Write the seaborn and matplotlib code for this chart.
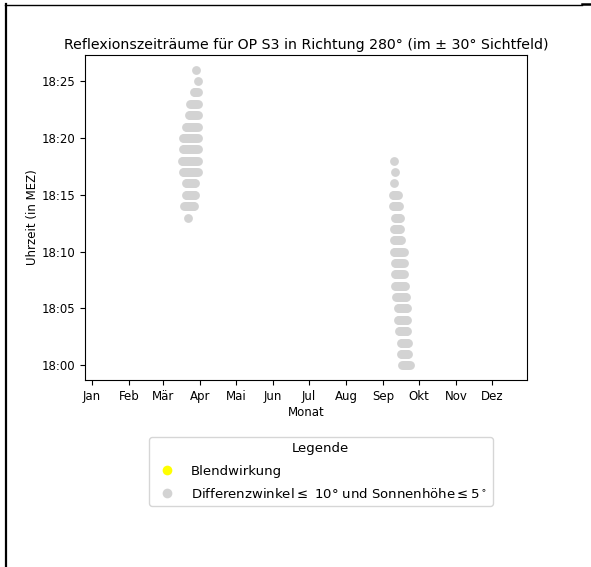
import numpy as np
import pandas as pd
import matplotlib
matplotlib.use("Agg")
import matplotlib.pyplot as plt
from matplotlib.lines import Line2D
from matplotlib.ticker import FuncFormatter
import seaborn as sns

# Month labels and the day-of-year on which each month starts
months = ["Jan", "Feb", "Mär", "Apr", "Mai", "Jun", "Jul", "Aug", "Sep", "Okt", "Nov", "Dez"]
month_start_doy = [0, 31, 59, 90, 120, 151, 181, 212, 243, 273, 304, 334]

# Spring window: minute after 18:00 and the first/last day of year with reflection
spring_minute = [13, 14, 15, 16, 17, 18, 19, 20, 21, 22, 23, 24, 25, 26]
spring_first = [80, 77, 78, 78, 76, 75, 76, 76, 78, 81, 82, 85, 88, 87]
spring_last = [80, 85, 86, 86, 88, 88, 88, 88, 88, 88, 88, 88, 88, 87]

# Autumn window
autumn_minute = [0, 1, 2, 3, 4, 5, 6, 7, 8, 9, 10, 11, 12, 13, 14, 15, 16, 17, 18]
autumn_first = [259, 258, 258, 256, 255, 255, 254, 253, 253, 253, 252, 252, 252, 253, 251, 251, 252, 253, 252]
autumn_last = [265, 264, 264, 263, 263, 263, 262, 261, 260, 260, 260, 258, 257, 257, 256, 255, 252, 253, 252]

label_glare = "Blendwirkung"
label_reflex = "Differenzwinkel$\\leq$ 10° und Sonnenhöhe$\\leq 5^\\circ$"

rows = []
for mins, first, last in ((spring_minute, spring_first, spring_last),
                          (autumn_minute, autumn_first, autumn_last)):
    for m, a, b in zip(mins, first, last):
        for d in range(a, b + 1):
            rows.append({"Tag": d, "Minute": m, "Art": label_reflex})
df = pd.DataFrame(rows)

fig = plt.figure(figsize=(5.91, 5.67), dpi=100)
ax = fig.add_axes([0.1438, 0.3298, 0.7479, 0.5732])

sns.scatterplot(data=df, x="Tag", y="Minute", color="lightgrey", s=40,
                linewidth=0, ax=ax, legend=False)

ax.set_xlim(-6, 363)
ax.set_xticks(month_start_doy)
ax.set_xticklabels(months, fontsize=8.5)
ax.set_yticks(range(0, 26, 5))
ax.yaxis.set_major_formatter(FuncFormatter(lambda v, p: f"18:{int(round(v)):02d}"))
ax.tick_params(axis="y", labelsize=8.5)
ax.set_xlabel("Monat", fontsize=8.5, labelpad=2)
ax.set_ylabel("Uhrzeit (in MEZ)", fontsize=8.5, labelpad=2)
ax.set_title("Reflexionszeiträume für OP S3 in Richtung 280° (im ± 30° Sichtfeld)",
             fontsize=10.2, pad=4)

handles = [
    Line2D([], [], marker="o", linestyle="", color="yellow", markersize=7, markeredgewidth=0),
    Line2D([], [], marker="o", linestyle="", color="lightgrey", markersize=7, markeredgewidth=0),
]
fig.legend(handles, [label_glare, label_reflex], title="Legende",
           loc="upper left", bbox_to_anchor=(149 / 591, 1 - 437 / 567),
           borderaxespad=0, fontsize=9.5, title_fontsize=9.5, labelspacing=0.7,
           frameon=True)

# Page frame lines
fig.add_artist(Line2D([5.5 / 591, 5.5 / 591], [0, 1 - 4 / 567], color="black", lw=1.6,
                      transform=fig.transFigure))
fig.add_artist(Line2D([5 / 591, 582 / 591], [1 - 4.5 / 567, 1 - 4.5 / 567], color="black",
                      lw=1.0, transform=fig.transFigure))
fig.add_artist(Line2D([582 / 591, 1], [1 - 4 / 567, 1 - 4 / 567], color="black",
                      lw=1.8, transform=fig.transFigure))

fig.savefig("out.png", dpi=100)
